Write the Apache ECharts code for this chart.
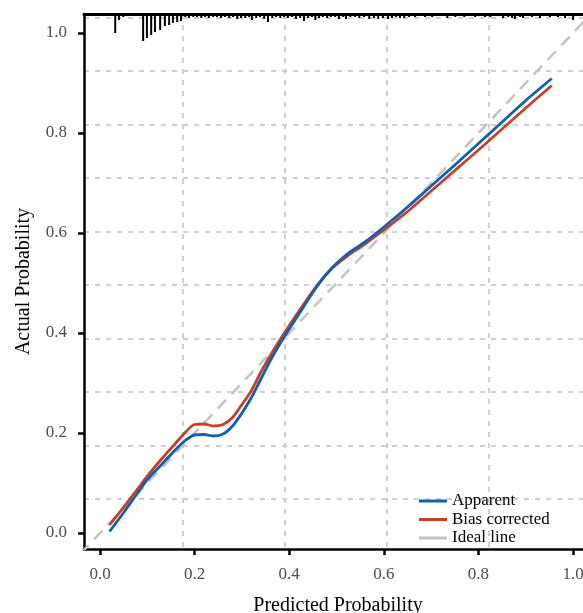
<!DOCTYPE html>
<html>
<head>
<meta charset="utf-8">
<script src="https://cdn.jsdelivr.net/npm/echarts@6/dist/echarts.min.js"></script>
<style>
html, body { margin: 0; padding: 0; background: #fff; }
#main { width: 583px; height: 613px; }
</style>
</head>
<body>
<div id="main"></div>
<script>
// predicted probability grid shared by both curves
const predX = [0.02, 0.05, 0.08, 0.10, 0.13, 0.16, 0.18, 0.20, 0.22, 0.24, 0.26, 0.28, 0.30, 0.32, 0.34,
  0.36, 0.38, 0.40, 0.43, 0.46, 0.49, 0.52, 0.56, 0.60, 0.65, 0.70, 0.75, 0.80, 0.85, 0.90, 0.955];
const apparent = [0.003, 0.041, 0.081, 0.107, 0.137, 0.167, 0.185, 0.196, 0.197, 0.194, 0.198, 0.214, 0.240, 0.271, 0.308,
  0.345, 0.378, 0.408, 0.452, 0.495, 0.530, 0.556, 0.582, 0.612, 0.652, 0.694, 0.736, 0.779, 0.822, 0.865, 0.909];
const biasCorrected = [0.016, 0.052, 0.089, 0.114, 0.148, 0.180, 0.201, 0.217, 0.218, 0.214, 0.217, 0.231, 0.257, 0.285, 0.322,
  0.355, 0.386, 0.415, 0.457, 0.497, 0.529, 0.552, 0.578, 0.606, 0.643, 0.684, 0.725, 0.766, 0.808, 0.850, 0.895];
const idealLine = [[-0.1, -0.1], [1.1, 1.1]];

// rug of predicted values along the top (position, relative frequency)
const rugX = [0.032, 0.040, 0.049, 0.057, 0.091, 0.099, 0.108, 0.116, 0.127, 0.137, 0.146, 0.154, 0.163, 0.171,
  0.180, 0.188, 0.197, 0.205, 0.214, 0.222, 0.230, 0.239, 0.247, 0.256, 0.264, 0.273, 0.281, 0.290, 0.298, 0.307,
  0.315, 0.321, 0.330, 0.338, 0.347, 0.355, 0.364, 0.372, 0.381, 0.389, 0.397, 0.406, 0.414, 0.423, 0.431, 0.440,
  0.448, 0.455, 0.463, 0.471, 0.480, 0.488, 0.497, 0.505, 0.514, 0.520, 0.529, 0.539, 0.548, 0.558, 0.569, 0.579,
  0.588, 0.598, 0.609, 0.617, 0.626, 0.634, 0.643, 0.653, 0.666, 0.687, 0.702, 0.734, 0.751, 0.770, 0.793, 0.814,
  0.825, 0.852, 0.863, 0.871, 0.877, 0.888, 0.894, 0.913, 0.930, 0.951, 0.968, 0.983, 1.000];
const rugFreq = [19, 6, 3, 2, 27, 24, 21, 18, 16, 12, 11, 9, 8, 7,
  3, 4, 3, 3, 4, 3, 4, 3, 3, 4, 3, 4, 3, 5, 4, 4,
  3, 6, 4, 3, 5, 8, 4, 3, 4, 3, 4, 3, 5, 4, 7, 4,
  3, 6, 4, 3, 4, 3, 3, 5, 3, 5, 3, 3, 4, 3, 5, 4,
  5, 4, 5, 4, 3, 4, 4, 3, 3, 3, 3, 4, 3, 3, 3, 3,
  3, 4, 3, 4, 5, 3, 4, 3, 4, 3, 3, 4, 6];

const FONT = 'Liberation Serif';
const X_MIN = -0.034, X_MAX = 1.04, Y_MIN = -0.032, Y_MAX = 1.038;

let myChart = echarts.init(document.getElementById('main'));

const hidden = { show: false };
const gridDash = { show: true, lineStyle: { color: '#cfcfcf', width: 2, type: [5, 6] } };
const tickStyle = { show: true, length: 6, lineStyle: { color: '#000', width: 2.5 } };
const tickLabel = {
  margin: 17, fontFamily: FONT, fontSize: 17, color: '#4d4d4d',
  formatter: (v) => v.toFixed(1)
};

let option = {
  animation: false,
  textStyle: { fontFamily: FONT },
  grid: [
    { left: 84, top: 14, right: -9, bottom: 64, outerBoundsMode: 'none' },     // data
    { left: 84, top: 17.5, right: -9, bottom: 114, outerBoundsMode: 'none' },  // horizontal guide lines
    { left: 183, top: 14, width: 306, bottom: 64, outerBoundsMode: 'none' },   // vertical guide lines
    { left: 100, top: 14, width: 473, bottom: 64, outerBoundsMode: 'none' },   // x ticks 0..1
    { left: 84, top: 33, right: -9, bottom: 80, outerBoundsMode: 'none' }      // y ticks 0..1
  ],
  xAxis: [
    {
      gridIndex: 0, type: 'value', min: X_MIN, max: X_MAX,
      axisLine: { onZero: false, lineStyle: { color: '#000', width: 2.5 } },
      axisTick: hidden, axisLabel: hidden, splitLine: hidden,
      name: 'Predicted Probability', nameLocation: 'middle', nameGap: 47,
      nameTextStyle: { fontFamily: FONT, fontSize: 20, color: '#000' }
    },
    {
      gridIndex: 0, type: 'value', position: 'top', min: X_MIN, max: X_MAX,
      axisLine: { onZero: false, lineStyle: { color: '#000', width: 3 } },
      axisTick: hidden, axisLabel: hidden, splitLine: hidden
    },
    { gridIndex: 1, type: 'value', min: 0, max: 1, show: false },
    {
      gridIndex: 2, type: 'value', min: 0, max: 3, interval: 1,
      axisLine: hidden, axisTick: hidden, axisLabel: hidden, splitLine: gridDash
    },
    {
      gridIndex: 3, type: 'value', min: 0, max: 1, interval: 0.2,
      axisLine: { show: false, onZero: false }, splitLine: hidden,
      axisTick: tickStyle, axisLabel: tickLabel
    },
    { gridIndex: 4, type: 'value', min: 0, max: 1, show: false }
  ],
  yAxis: [
    {
      gridIndex: 0, type: 'value', min: Y_MIN, max: Y_MAX,
      axisLine: { onZero: false, lineStyle: { color: '#000', width: 2.5 } },
      axisTick: hidden, axisLabel: hidden, splitLine: hidden,
      name: 'Actual Probability', nameLocation: 'middle', nameGap: 50,
      nameTextStyle: { fontFamily: FONT, fontSize: 20, color: '#000' }
    },
    { gridIndex: 0, type: 'value', min: 0, max: 535, inverse: true, show: false },
    {
      gridIndex: 1, type: 'value', min: 0, max: 9, interval: 1,
      axisLine: hidden, axisTick: hidden, axisLabel: hidden, splitLine: gridDash
    },
    { gridIndex: 2, type: 'value', min: 0, max: 1, show: false },
    { gridIndex: 3, type: 'value', min: 0, max: 1, show: false },
    {
      gridIndex: 4, type: 'value', min: 0, max: 1, interval: 0.2,
      axisLine: { show: false, onZero: false }, splitLine: hidden,
      axisTick: tickStyle, axisLabel: tickLabel
    }
  ],
  legend: {
    orient: 'vertical',
    left: 414, top: 487,
    itemWidth: 28, itemHeight: 3, itemGap: 0.5,
    icon: 'rect',
    textStyle: { fontFamily: FONT, fontSize: 17, color: '#000', lineHeight: 18 },
    data: ['Apparent', 'Bias corrected', 'Ideal line']
  },
  series: [
    {
      name: 'Ideal line', type: 'line', xAxisIndex: 0, yAxisIndex: 0,
      data: idealLine, showSymbol: false, silent: true, z: 1,
      lineStyle: { color: '#c3c3c3', width: 2.5, type: [12, 8] },
      itemStyle: { color: '#c3c3c3' }
    },
    {
      name: 'Bias corrected', type: 'line', xAxisIndex: 0, yAxisIndex: 0,
      data: predX.map((x, i) => [x, biasCorrected[i]]),
      showSymbol: false, smooth: 0.3, z: 3,
      lineStyle: { color: '#c4402a', width: 2.8 },
      itemStyle: { color: '#c4402a' }
    },
    {
      name: 'Apparent', type: 'line', xAxisIndex: 0, yAxisIndex: 0,
      data: predX.map((x, i) => [x, apparent[i]]),
      showSymbol: false, smooth: 0.3, z: 4,
      lineStyle: { color: '#125eb0', width: 2.8 },
      itemStyle: { color: '#125eb0' }
    },
    {
      name: 'rug', type: 'custom', xAxisIndex: 0, yAxisIndex: 1,
      data: rugX.map((x, i) => [x, rugFreq[i]]),
      encode: { x: 0, y: 1 }, silent: true, z: 5,
      renderItem: function (params, api) {
        const a = api.coord([api.value(0), 0]);
        const b = api.coord([api.value(0), api.value(1)]);
        return {
          type: 'line',
          shape: { x1: a[0], y1: a[1], x2: b[0], y2: b[1] },
          style: { stroke: '#000', lineWidth: 2 }
        };
      }
    }
  ]
};

myChart.setOption(option);
</script>
</body>
</html>
